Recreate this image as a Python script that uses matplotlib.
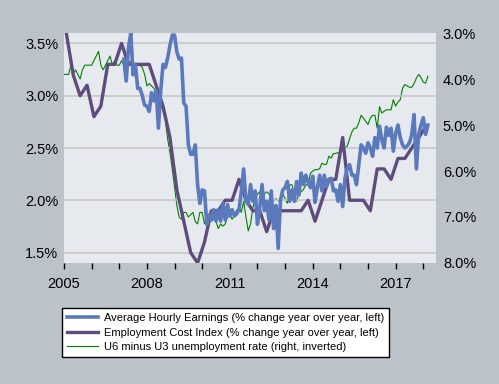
import matplotlib
matplotlib.use("Agg")
import matplotlib.pyplot as plt
import numpy as np

plt.rcParams['font.family'] = ['Liberation Sans', 'DejaVu Sans']

# U6 minus U3 (monthly, Jan 2005 - Mar 2018), right axis inverted
gap = [3.9, 3.9, 3.9, 3.7, 3.9, 3.8, 3.9, 4.0, 3.8, 3.7, 3.7, 3.7,
       3.7, 3.6, 3.5, 3.4, 3.7, 3.8, 3.7, 3.6, 3.5, 3.7, 3.6, 3.7,
       3.7, 3.6, 3.7, 3.7, 3.7, 3.6, 3.7, 3.7, 3.7, 3.7, 3.75, 3.9,
       4.15, 4.1, 4.15, 4.2, 4.3, 4.4, 4.55, 4.7, 4.9, 5.3, 5.6, 5.95,
       6.35, 6.75, 7.0, 7.05, 6.9, 6.9, 7.0, 6.95, 6.9, 7.1, 7.15, 6.9,
       6.9, 7.15, 7.0, 7.1, 7.0, 7.05, 7.1, 7.25, 7.15, 7.2, 7.15, 7.0,
       6.95, 7.05, 6.95, 6.85, 6.8, 6.9, 6.66, 7.0, 7.3, 7.15, 6.8, 6.6,
       6.5, 6.45, 6.7, 6.5, 6.45, 6.5, 6.55, 6.65, 6.6, 6.65, 6.6, 6.5,
       6.6, 6.7, 6.3, 6.3, 6.5, 6.66, 6.5, 6.45, 6.4, 6.3, 6.3, 6.05,
       6.0, 5.97, 5.97, 5.95, 5.83, 5.86, 5.85, 5.68, 5.72, 5.62, 5.62, 5.6,
       5.6, 5.55, 5.5, 5.46, 5.3, 5.15, 5.07, 5.07, 4.95, 4.79, 4.85, 4.92,
       4.99, 4.85, 4.79, 4.79, 5.07, 4.6, 4.74, 4.7, 4.67, 4.67, 4.67, 4.45,
       4.59, 4.5, 4.45, 4.2, 4.12, 4.15, 4.18, 4.18, 4.1, 3.98, 3.9, 3.97,
       4.07, 4.09, 3.94]

# Average hourly earnings y/y (monthly, Mar 2007 - Mar 2018)
ahe = [3.35, 3.14, 3.46, 3.6, 3.2, 3.3, 3.07, 3.07, 3.0, 2.91,
       2.9, 2.85, 3.03, 2.95, 3.05, 2.69, 3.05, 3.3, 3.27, 3.36, 3.48, 3.58,
       3.58, 3.42, 3.35, 3.36, 2.93, 2.9, 2.53, 2.44, 2.44, 2.53, 2.15, 1.97,
       2.1, 2.09, 1.77, 1.86, 1.81, 1.91, 1.8, 1.91, 1.8, 1.97, 1.81, 1.96,
       1.85, 1.91, 1.85, 1.87, 1.91, 2.09, 2.3, 1.99, 1.96, 2.15, 1.99, 2.09,
       1.77, 1.93, 2.15, 1.9, 1.99, 1.81, 2.09, 1.73, 1.95, 1.54, 2.0, 2.1,
       2.12, 2.18, 1.99, 2.1, 1.99, 2.18, 2.05, 2.26, 2.15, 2.24, 2.17, 2.12,
       2.23, 1.98, 2.12, 2.24, 2.09, 2.24, 2.13, 2.2, 2.21, 2.09, 2.1, 1.99,
       2.15, 1.94, 2.21, 2.31, 2.34, 2.24, 2.24, 2.15, 2.34, 2.53, 2.5, 2.45,
       2.55, 2.5, 2.42, 2.6, 2.5, 2.71, 2.58, 2.5, 2.7, 2.62, 2.69, 2.47,
       2.64, 2.72, 2.6, 2.53, 2.5, 2.52, 2.55, 2.63, 2.82, 2.3, 2.63, 2.72,
       2.79, 2.63, 2.72]

# Employment cost index y/y (quarterly, 2005Q1 - 2018Q1)
eci = [3.6, 3.2, 3.0, 3.1,
       2.8, 2.9, 3.3, 3.3,
       3.5, 3.3, 3.3, 3.3,
       3.3, 3.1, 2.9, 2.6,
       2.1, 1.8, 1.5, 1.4,
       1.6, 1.9, 1.9, 2.0,
       2.0, 2.2, 2.0, 1.9,
       1.9, 1.7, 1.9, 1.9,
       1.9, 1.9, 1.9, 2.0,
       1.8, 2.0, 2.2, 2.2,
       2.6, 2.0, 2.0, 2.0,
       1.9, 2.3, 2.3, 2.2,
       2.4, 2.4, 2.5, 2.6,
       2.7]

labels = ["Average Hourly Earnings (% change year over year, left)",
          "Employment Cost Index (% change year over year, left)",
          "U6 minus U3 unemployment rate (right, inverted)"]

t_gap = 2005 + np.arange(len(gap)) / 12
t_ahe = 2005 + (26 + np.arange(len(ahe))) / 12
t_eci = 2005 + (1 + 3 * np.arange(len(eci))) / 12

fig = plt.figure(figsize=(4.99, 3.84), dpi=100, facecolor='#bcc2ca')
ax = fig.add_axes([64/499, 1-263/384, 372/499, 230/384])
ax2 = ax.twinx()
ax.set_zorder(ax2.get_zorder() + 1)
ax.patch.set_visible(False)
ax2.patch.set_visible(True)
ax2.patch.set_facecolor('#e6e9ed')

g, = ax2.plot(t_gap, gap, color='#008000', lw=0.8)
p, = ax.plot(t_eci, eci, color='#5e4d7c', lw=2.4)
b, = ax.plot(t_ahe, ahe, color='#5b79bd', lw=2.6)

ax.set_xlim(2005, 2018.46)
ax.set_ylim(1.4, 3.6)
ax2.set_ylim(8.0, 3.0)

ax.set_yticks([1.5, 2.0, 2.5, 3.0, 3.5])
ax.set_yticklabels(["%.1f%%" % v for v in [1.5, 2.0, 2.5, 3.0, 3.5]])
ax2.set_yticks([3, 4, 5, 6, 7, 8])
ax2.set_yticklabels(["%.1f%%" % v for v in [3, 4, 5, 6, 7, 8]])
ax.set_xticks([2005, 2008, 2011, 2014, 2017])
ax.set_xticklabels(["2005", "2008", "2011", "2014", "2017"])
ax.set_xticks(range(2005, 2019), minor=True)

ax.grid(axis='y', color='#c8c8c8', lw=1.2)
ax.set_axisbelow(True)
for a in (ax, ax2):
    for s in a.spines.values():
        s.set_visible(False)
ax.tick_params(axis='y', length=0, labelsize=10.5, pad=4)
ax2.tick_params(axis='y', length=0, labelsize=10.5, pad=5)
ax.tick_params(axis='x', which='both', direction='out', length=4, width=1,
               color='black', labelsize=10.5, pad=6)
ax2.tick_params(axis='x', length=0)

leg = fig.legend([b, p, g], labels, loc='upper left',
                 bbox_to_anchor=(62/499, 1-308/384), borderaxespad=0,
                 fontsize=8, handlelength=2.8, handletextpad=0.5,
                 labelspacing=0.42, borderpad=0.45,
                 fancybox=False, framealpha=1, facecolor='white',
                 edgecolor='black')
leg.get_frame().set_linewidth(1.0)

fig.savefig('out.png', dpi=100, facecolor=fig.get_facecolor())
